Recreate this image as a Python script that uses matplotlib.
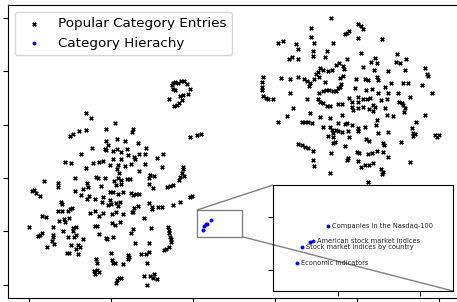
import matplotlib
matplotlib.use("Agg")
import matplotlib.pyplot as plt
from mpl_toolkits.axes_grid1.inset_locator import mark_inset

# t-SNE style embedding
# left cluster (incl. the small loop on top)
left_x = [-5.1, -4.9, -4.4, -3.7, -2.9, -2.2, -1.5, -0.7, -4.9, -4.4, -3.2, -2.4, -1.2, -2.7, -3.4, -3.9, -4.6, -5.9,
          -26.1, -24.9, -19.0, -30.0, -29.3, -27.8, -26.1, -21.2, -14.6, -14.9, -21.2, -18.5, -16.6, -20.7, -21.5,
          -18.5, -16.1, -24.6, -13.4, -11.5, -0.7, 1.0, 2.0,
          -27.3, -21.2, -19.5, -17.6, -15.9, -14.4, -13.2, -11.7, -7.3, -8.8, -31.2, -29.8, -24.4, -22.9, -22.0,
          -20.2, -19.5, -18.3, -17.6, -16.6, -15.1, -14.1, -11.7, -7.6, -2.4, -2.4, -26.1, -18.5, -18.0, -13.2,
          -2.7, -2.2, -3.2, -28.8, -23.7, -23.2, -21.5, -19.3, -18.3, -17.6, -16.1, -15.4, -10.5, -9.5, -10.7,
          -3.4, -36.3, -32.9, -32.9, -25.9, -25.6, -22.4, -18.8, -17.6, -10.7, -9.8, -6.3, -5.6, -4.9, -39.3,
          -38.8, -38.3, -37.3, -28.8, -26.8, -27.3, -25.4, -25.9, -23.9, -22.0, -20.2, -19.5, -18.3, -17.1,
          -15.1, -14.6, -13.9, -13.2, -0.2, -0.7, -32.2, -32.0, -22.2, -20.2, -20.0, -18.8, -17.8, -18.3, -20.7,
          -13.4, -14.4, -14.6, -10.7, -10.0, -10.0, -8.5, -7.6, -4.9, -3.2, -32.9, -32.0, -30.5, -30.0, -29.5,
          -25.1, -23.9, -22.9, -22.0, -19.8, -18.8, -17.1, -14.9, -36.8, -35.9, -32.7, -31.5, -31.2, -30.2,
          -23.9, -23.4, -19.8, -19.0, -17.8, -12.0, -29.3, -28.5, -29.3, -34.1, -31.7, -40.0, -14.6, -15.1,
          -10.2, -6.1, -5.9, -5.9, -5.6, -5.4, -5.4, -36.8, -37.8, -37.3, -34.1, -34.1, -30.5, -29.0, -28.5,
          -22.9, -21.2, -21.0, -19.5, -34.4, -33.9, -26.8, -29.8, -28.0, -27.6, -28.5, -35.6, -14.1, -10.7,
          -7.1, -6.6, -5.9, -30.7, -30.2, -28.0, -20.0, -12.7, -11.5, -10.7, -15.9, -15.6, -15.9, -19.8, -19.5,
          -19.0, -17.1, -23.7, -23.4, -11.2, -24.1, -23.4, -22.9, -23.9, -18.0, -17.6, -18.5, -18.8, -12.0,
          -10.5, -9.5, -9.8, -8.8, -11.2]
left_y = [34.9, 35.6, 36.0, 35.6, 36.4, 36.4, 35.3, 33.4, 33.4, 33.0, 30.8, 31.1, 31.5, 29.3, 28.1, 27.4, 27.0, 29.6,
          24.4, 22.5, 20.6, 15.8, 16.5, 17.6, 18.0, 18.4, 18.4, 17.3, 13.9, 14.6, 13.9, 12.4, 10.9,
          10.9, 10.9, 11.3, 13.1, 11.3, 15.4, 16.1, 16.5,
          9.0, 10.5, 10.1, 9.8, 8.6, 7.9, 9.0, 9.0, 9.0, 7.5, 6.0, 5.6, 5.6, 6.0, 6.4,
          4.9, 7.1, 4.9, 7.1, 4.5, 5.3, 7.1, 5.3, 4.1, 4.1, 3.4, 3.8, 3.4, 1.9, 2.6,
          1.9, 0.8, 0.4, 0.0, 0.4, 0.0, 0.0, -1.1, 0.0, -0.8, -0.4, -0.4, 1.1, 0.8, 0.0,
          -0.8, -1.1, -1.9, -3.4, -1.9, -3.4, -3.0, -2.6, -2.3, -2.3, -3.8, -3.4, -3.0, -2.6, -4.9,
          -4.5, -5.6, -6.8, -4.9, -4.1, -6.4, -6.8, -7.9, -7.9, -7.1, -5.3, -5.3, -6.0, -5.3,
          -5.6, -6.4, -6.0, -6.0, -6.8, -7.1, -9.0, -9.8, -9.0, -8.3, -9.8, -9.4, -9.0, -10.5, -10.1,
          -10.5, -11.3, -12.8, -9.4, -10.9, -11.6, -10.9, -10.9, -10.1, -9.0, -12.4, -12.4, -12.4, -11.6, -11.3,
          -13.1, -12.4, -14.3, -13.1, -13.5, -12.8, -13.5, -12.8, -14.3, -14.6, -16.1, -15.4, -16.5, -15.0,
          -18.0, -18.0, -16.9, -17.6, -16.5, -15.0, -18.8, -18.4, -19.9, -18.4, -19.9, -18.4, -19.1, -20.6,
          -18.8, -18.4, -19.5, -20.6, -22.1, -22.9, -24.0, -20.6, -21.8, -21.4, -21.4, -22.1, -22.1, -22.1, -21.4,
          -21.0, -22.5, -22.9, -22.1, -23.6, -24.8, -22.9, -25.1, -25.1, -25.9, -26.6, -25.9, -24.4, -24.4,
          -27.0, -26.6, -25.9, -28.1, -28.1, -28.5, -28.1, -28.5, -28.5, -27.8, -28.9, -29.6, -30.4, -30.8, -31.9,
          -31.9, -32.3, -30.4, -31.9, -31.9, -34.9, -34.5, -35.3, -36.0, -37.5, -37.5, -38.3, -39.4, -36.8,
          -36.8, -36.0, -37.5, -37.9, -40.1]

# right cluster
right_x = [33.7, 40.2, 41.0, 41.5, 37.1, 37.6, 38.0, 28.8, 28.8, 40.2, 46.1, 20.7, 22.0, 29.5, 34.1, 25.1, 25.6,
           29.3, 32.7, 23.4, 24.1, 25.6, 29.3, 32.2, 37.6, 41.0, 43.4, 44.4, 44.9, 49.8, 49.5, 50.5, 52.0,
           31.0, 31.7, 32.9, 33.9, 34.9, 35.6, 36.6, 36.8, 41.5, 44.1, 30.5, 30.0, 47.6, 51.7, 56.6, 57.1, 57.3,
           17.1, 16.8, 16.8, 16.8, 17.1, 17.8, 18.3, 19.5, 21.5, 23.7, 25.6, 27.1, 27.8, 28.5, 28.3, 29.5, 30.7,
           32.2, 35.9, 36.6, 39.8, 42.0, 42.7, 44.9, 45.1, 48.3, 51.2, 52.4, 55.9, 36.1, 35.9, 39.5, 42.2, 43.7,
           46.8, 23.7, 30.7, 31.7, 32.4, 33.2, 34.1, 34.9, 35.4, 40.2, 45.1, 47.6, 50.0, 58.3, 27.8, 30.5, 31.0,
           31.7, 32.7, 33.4, 35.4, 36.3, 38.0, 38.8, 40.2, 41.5, 42.4, 43.2, 43.9, 45.9, 47.3, 50.2, 51.0, 51.2,
           51.7, 52.9, 24.4, 28.5, 31.0, 33.4, 36.3, 38.8, 39.0, 40.2, 41.5, 42.9, 44.4, 43.9, 46.8, 47.3, 48.8,
           51.5, 56.6, 22.9,
           20.7, 26.6, 27.3, 28.0, 29.0, 31.7, 33.4, 35.4, 37.1, 37.6, 38.8, 40.2, 42.0, 44.6, 44.9, 33.9, 34.9,
           35.4, 34.1, 36.3, 37.8, 40.2, 45.1, 47.6, 32.9, 34.1, 38.0, 42.2, 42.9, 46.3, 46.6, 34.6, 34.1, 25.6,
           26.6, 27.3, 28.0, 29.3, 33.7, 37.1, 40.0, 40.5, 42.7, 43.7, 44.9, 46.3, 47.6, 29.3, 29.5, 37.6, 37.8,
           40.2, 41.0, 42.0, 42.9, 43.9, 45.9, 46.3, 46.1, 33.4, 42.7, 54.4, 53.4, 53.7, 54.1, 53.7, 59.0, 59.5,
           60.0, 50.7, 52.9]
right_y = [60.0, 57.8, 57.0, 55.9, 54.0, 54.4, 55.2, 56.3, 52.9, 52.5, 52.2, 50.7, 51.4, 50.7, 50.7, 50.3, 48.4,
           47.6, 47.6, 44.6, 45.4, 44.6, 45.8, 45.4, 44.6, 46.9, 43.5, 45.0, 43.1, 46.5, 43.5, 43.1, 44.6,
           41.3, 40.5, 40.1, 40.5, 42.4, 43.1, 42.0, 40.9, 41.6, 40.5, 39.8, 39.0, 40.1, 40.5, 41.3, 39.0, 38.3,
           37.9, 36.0, 34.1, 33.0, 30.8, 30.0, 29.6, 29.6, 37.5, 37.1, 37.9, 37.1, 36.4, 35.6, 34.5, 37.1, 37.9,
           36.0, 37.5, 38.3, 37.1, 37.1, 36.8, 37.9, 36.8, 35.6, 35.6, 35.6, 34.9, 35.3, 34.1, 33.8, 33.0, 33.4,
           34.1, 31.9, 31.9, 32.6, 33.0, 33.0, 32.6, 32.6, 33.8, 30.4, 31.9, 31.9, 31.9, 31.9, 29.6, 29.6, 28.5,
           28.1, 27.0, 27.0, 27.8, 27.8, 30.0, 28.5, 28.5, 29.6, 29.6, 30.0, 27.4, 29.3, 29.6, 28.5, 28.1, 27.4,
           26.3, 30.4, 26.3, 24.4, 22.9, 22.5, 23.6, 26.6, 25.5, 26.3, 26.6, 25.9, 26.6, 25.1, 26.3, 23.6, 23.3,
           24.8, 23.6, 23.3,
           21.0, 21.0, 21.0, 21.0, 20.6, 19.1, 19.1, 20.6, 20.3, 20.6, 19.9, 18.8, 19.1, 19.9, 21.8, 18.0, 18.0,
           17.6, 16.9, 17.3, 17.6, 17.6, 16.9, 17.3, 15.8, 15.4, 15.4, 14.6, 13.9, 13.1, 12.4, 13.5, 13.1, 12.8,
           12.4, 11.6, 11.3, 10.1, 9.4, 12.0, 9.8, 9.4, 9.0, 9.4, 10.1, 9.8, 7.9, 6.8, 4.5, 6.8, 7.5,
           6.4, 4.1, 4.9, 4.9, 5.6, 3.4, 2.3, 1.5, 1.9, -1.5, 21.0, 18.8, 16.9, 16.5, 15.8, 16.1, 15.4,
           16.1, 13.5, 6.0]

entries_x = left_x + right_x
entries_y = left_y + right_y

# category hierarchy nodes
hier_labels = ["Companies in the Nasdaq-100", "American stock market indices", "",
               "Stock market indices by country", "Economic indicators"]
hier_x = [4.35, 3.44, 3.26, 2.77, 2.46]
hier_y = [-15.87, -17.28, -17.38, -17.85, -19.36]

fig = plt.figure(figsize=(4.57, 3.02), dpi=100)
ax = fig.add_axes([8 / 457, 4 / 302, 462 / 457, 293 / 302])

ax.scatter(entries_x, entries_y, marker='x', s=6, c='black', linewidths=1.3,
           label='Popular Category Entries')
ax.scatter(hier_x, hier_y, marker='o', s=8, c='blue', linewidths=0,
           label='Category Hierachy')

ax.set_xlim(-45.1, 67.6)
ax.set_ylim(-45.0, 64.9)
ax.set_xticks([-40, -20, 0, 20, 40, 60])
ax.set_yticks([-40, -20, 0, 20, 40, 60])
ax.set_xticklabels([])
ax.set_yticklabels([])
ax.legend(loc='upper left', fontsize=9.7)

# zoomed inset
axins = fig.add_axes([273 / 457, 11 / 302, 180 / 457, 106 / 302])
axins.scatter(entries_x, entries_y, marker='x', s=6, c='black', linewidths=1.3)
axins.scatter(hier_x, hier_y, marker='o', s=8, c='blue', linewidths=0)
for lab, x, y in zip(hier_labels, hier_x, hier_y):
    if lab:
        axins.annotate(lab, (x, y), xytext=(3.2, 0), textcoords='offset points',
                       va='center', ha='left', fontsize=4.8, color='#222222')
axins.set_xlim(1, 12)
axins.set_ylim(-22, -12)
axins.set_xticks([5, 10])
axins.set_yticks([-20, -15])
axins.set_xticklabels([])
axins.set_yticklabels([])

mark_inset(ax, axins, loc1=2, loc2=4, fc="none", ec="0.5", lw=1.0)

fig.savefig("out.png", dpi=100)
